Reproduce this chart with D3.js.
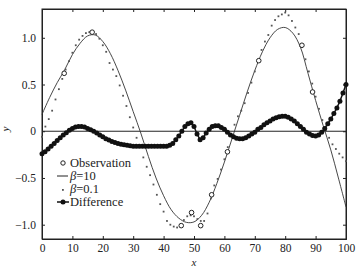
<!DOCTYPE html>
<html>
<head>
<meta charset="utf-8">
<script src="https://cdn.jsdelivr.net/npm/d3@7"></script>
<style>
body{margin:0;background:#fff}
svg{display:block}
svg text{font-family:"Liberation Serif",serif;fill:#222}
</style>
</head>
<body>
<svg id="chart" width="358" height="269"></svg>
<script>
// observation points
var obsX=[7.3,16.5,45.8,49.2,52.2,55.8,61,71.3,85.5,89]
var obsY=[0.62,1.06,-1.01,-0.87,-1.01,-0.68,-0.22,0.755,0.92,0.42]
// beta=10 fit (solid line), sampled every 2.5
var fitX=d3.range(0,101,2.5)
var fitY=[0.18,0.36,0.52,0.66,0.82,0.94,1.02,1.03,0.96,0.83,0.65,0.44,0.21,-0.02,-0.27,-0.50,-0.69,-0.84,-0.93,-0.975,-0.97,-0.9,-0.76,-0.56,-0.33,-0.08,0.17,0.42,0.65,0.85,1.0,1.09,1.11,1.05,0.90,0.62,0.33,0.06,-0.20,-0.50,-0.81]
// beta=0.1 fit (dots), 91 samples
var dotX=d3.range(0,91).map(i=>i*100/90)
var dotY=[-0.06,0.05,0.13,0.22,0.34,0.45,0.56,0.66,0.75,0.84,0.92,0.98,1.02,1.05,1.06,1.06,1.04,0.99,0.92,0.85,0.73,0.66,0.59,0.49,0.38,0.27,0.15,0.04,-0.07,-0.17,-0.28,-0.38,-0.47,-0.57,-0.68,-0.78,-0.86,-0.96,-1.0,-1.02,-1.03,-1.0,-0.95,-0.91,-0.9,-0.91,-0.94,-0.96,-0.96,-0.88,-0.72,-0.58,-0.51,-0.41,-0.3,-0.17,-0.04,0.07,0.16,0.22,0.3,0.41,0.52,0.64,0.76,0.87,0.96,1.03,1.13,1.19,1.23,1.25,1.27,1.24,1.18,1.11,1.04,0.9,0.77,0.64,0.51,0.37,0.24,0.12,0.01,-0.07,-0.14,-0.19,-0.24,-0.28,-0.32]
// difference, step 1
var difX=d3.range(0,101)
var difY=[-0.24,-0.22,-0.19,-0.16,-0.13,-0.10,-0.07,-0.04,-0.015,0.01,0.03,0.045,0.05,0.05,0.045,0.03,0.015,0.0,-0.02,-0.04,-0.06,-0.08,-0.095,-0.11,-0.12,-0.13,-0.14,-0.145,-0.15,-0.155,-0.16,-0.16,-0.16,-0.16,-0.16,-0.16,-0.16,-0.16,-0.16,-0.16,-0.16,-0.16,-0.15,-0.13,-0.09,-0.05,0.0,0.05,0.08,0.09,0.05,-0.03,-0.09,-0.07,-0.02,0.02,0.05,0.06,0.06,0.04,0.02,-0.01,-0.04,-0.06,-0.075,-0.08,-0.08,-0.07,-0.05,-0.03,-0.01,0.02,0.04,0.07,0.09,0.11,0.13,0.145,0.155,0.16,0.16,0.15,0.13,0.11,0.08,0.05,0.02,-0.01,-0.03,-0.045,-0.05,-0.04,-0.01,0.03,0.08,0.13,0.19,0.25,0.32,0.41,0.50]
var xTicks=[0,10,20,30,40,50,60,70,80,90,100]
var yTicks=[-1,-0.5,0,0.5,1]

var svg=d3.select('#chart')
var box={left:42,right:346,top:9,bottom:239}
var x=d3.scaleLinear().domain([0,100]).range([box.left,box.right])
var y=d3.scaleLinear().domain([-1.153,1.308]).range([box.bottom,box.top])
var fmtY=d=>d===0?'0':d3.format('.1f')(d).replace('-','\u2212')

// axes (ticks inward on all sides)
var tl=3
var gx=svg.append('g').attr('transform',`translate(0,${box.bottom})`)
    .call(d3.axisBottom(x).tickValues(xTicks).tickSize(-tl).tickPadding(5))
svg.append('g').attr('transform',`translate(0,${box.top})`)
    .call(d3.axisTop(x).tickValues(xTicks.slice(1,-1)).tickSize(-tl).tickFormat(''))
var gy=svg.append('g').attr('transform',`translate(${box.left},0)`)
    .call(d3.axisLeft(y).tickValues(yTicks).tickSize(-tl).tickPadding(6).tickFormat(fmtY))
svg.append('g').attr('transform',`translate(${box.right},0)`)
    .call(d3.axisRight(y).tickValues(yTicks).tickSize(-tl).tickFormat(''))
svg.selectAll('g').attr('font-family','Liberation Serif')
svg.selectAll('.domain').attr('stroke','#222')
svg.selectAll('.tick line').attr('stroke','#222')
svg.selectAll('.tick text').attr('font-size',11.5).attr('fill','#222')
svg.append('rect').attr('x',box.left).attr('y',box.top)
    .attr('width',box.right-box.left).attr('height',box.bottom-box.top)
    .attr('fill','none').attr('stroke','#222').attr('stroke-width',1)

svg.append('text').attr('x',(box.left+box.right)/2).attr('y',266)
    .attr('text-anchor','middle').attr('font-size',11).attr('font-style','italic').text('x')
svg.append('text').attr('transform','translate(9,129) rotate(-90)')
    .attr('text-anchor','middle').attr('font-size',11).attr('font-style','italic').text('y')

// zero line
svg.append('line').attr('x1',x(0)).attr('x2',x(100)).attr('y1',y(0)).attr('y2',y(0))
    .attr('stroke','#222').attr('stroke-width',1)

var plot=svg.append('g')
// beta=10 line
var line=d3.line().x(d=>x(d[0])).y(d=>y(d[1])).curve(d3.curveCatmullRom)
plot.append('path').datum(d3.zip(fitX,fitY)).attr('d',line)
    .attr('fill','none').attr('stroke','#333').attr('stroke-width',0.9)
// beta=0.1 dots
plot.append('g').selectAll('rect').data(d3.zip(dotX,dotY)).join('rect')
    .attr('x',d=>x(d[0])-0.9).attr('y',d=>y(d[1])-0.9)
    .attr('width',1.8).attr('height',1.8).attr('fill','#555')
// difference
plot.append('path').datum(d3.zip(difX,difY)).attr('d',d3.line().x(d=>x(d[0])).y(d=>y(d[1])))
    .attr('fill','none').attr('stroke','#111').attr('stroke-width',1.5)
plot.append('g').selectAll('circle').data(d3.zip(difX,difY)).join('circle')
    .attr('cx',d=>x(d[0])).attr('cy',d=>y(d[1])).attr('r',2.5).attr('fill','#111')
// observations
plot.append('g').selectAll('circle').data(d3.zip(obsX,obsY)).join('circle')
    .attr('cx',d=>x(d[0])).attr('cy',d=>y(d[1])).attr('r',2.3)
    .attr('fill','#fff').attr('stroke','#222').attr('stroke-width',1)

// legend
var lg=svg.append('g').attr('font-size',12.5).attr('font-family','Liberation Serif')
var lx=57, ly=[163,176,189,202]
lg.append('circle').attr('cx',lx+6).attr('cy',ly[0]).attr('r',2.2).attr('fill','#fff').attr('stroke','#222')
lg.append('line').attr('x1',lx).attr('x2',lx+11).attr('y1',ly[1]).attr('y2',ly[1]).attr('stroke','#222')
lg.append('rect').attr('x',lx+5).attr('y',ly[2]).attr('width',1.8).attr('height',1.8).attr('fill','#555')
lg.append('line').attr('x1',lx).attr('x2',lx+12).attr('y1',ly[3]).attr('y2',ly[3]).attr('stroke','#111').attr('stroke-width',1.5)
lg.append('circle').attr('cx',lx+6).attr('cy',ly[3]).attr('r',2.5).attr('fill','#111')
var labels=[['','Observation'],['\u03b2','=10'],['\u03b2','=0.1'],['','Difference']]
labels.forEach((l,i)=>{
    var t=lg.append('text').attr('x',lx+13).attr('y',ly[i]+4)
    if(l[0]) t.append('tspan').attr('font-style','italic').text(l[0])
    t.append('tspan').text(l[1])
})
</script>
</body>
</html>
